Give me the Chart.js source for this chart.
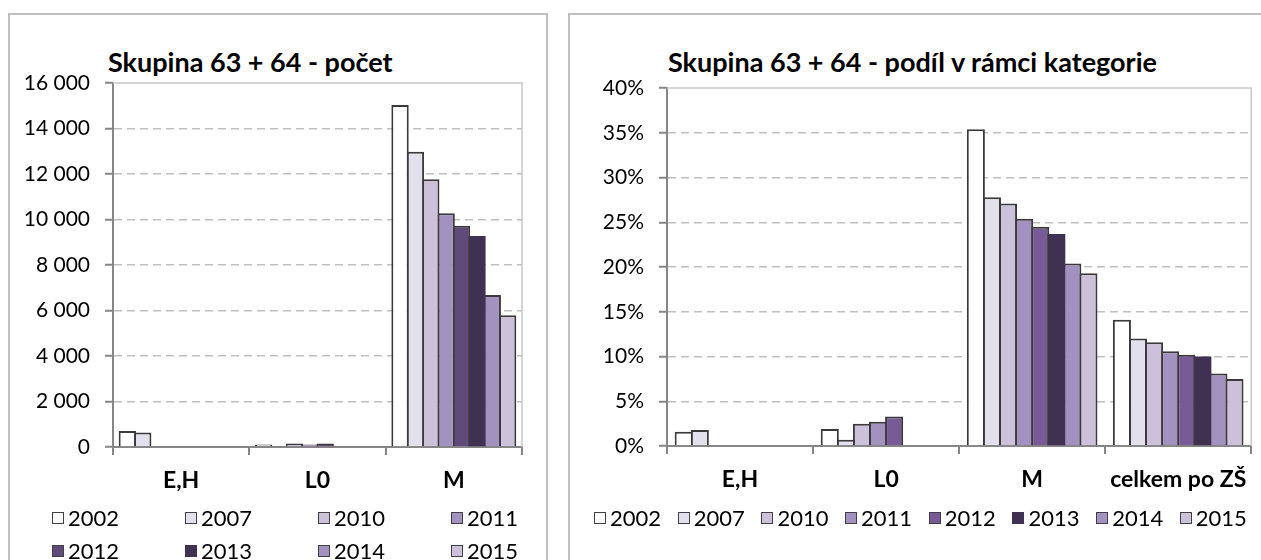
<!DOCTYPE html>
<html>
<head>
<meta charset="utf-8">
<script src="https://cdn.jsdelivr.net/npm/chart.js@4.4.1/dist/chart.umd.min.js"></script>
<style>
    body { margin: 0; width: 1261px; height: 560px; overflow: hidden; background: #fff; position: relative; font-family: Lato, sans-serif; }
    .panel { position: absolute; top: 13px; height: 620px; border: 2px solid #BFBFBF; box-sizing: border-box; }
    .title { position: absolute; top: 46px; font: bold 27px/32px Lato, sans-serif; color: #000; white-space: nowrap; }
    canvas { position: absolute; top: 13px; }
    .legend { position: absolute; top: 501px; display: grid; font: 22px/33px Lato, sans-serif; color: #000; }
    .legend-item { display: flex; align-items: center; white-space: nowrap; }
    .swatch { width: 12px; height: 12px; box-sizing: border-box; border: 1.5px solid #404040; margin-right: 4px; }
</style>
</head>
<body>
<div class="panel" style="left:8px; width:540px;"></div>
<div class="panel" style="left:568px; width:700px;"></div>
<div class="title" style="left:108px;">Skupina 63 + 64 - počet</div>
<div class="title" style="left:668px;">Skupina 63 + 64 - podíl v rámci kategorie</div>
<canvas id="countChart" width="540" height="500" style="left:7px;"></canvas>
<canvas id="shareChart" width="690" height="500" style="left:569px;"></canvas>
<div class="legend" id="countLegend" style="left:52px; grid-template-columns: repeat(4, 133px);"></div>
<div class="legend" id="shareLegend" style="left:594px; grid-template-columns: repeat(8, 83.7px);"></div>

<script>
// years = one series each
const years = ['2002', '2007', '2010', '2011', '2012', '2013', '2014', '2015'];

// left chart: counts per category (null = no bar)
const countCategories = ['E,H', 'L0', 'M'];
const countEH = [700, 640, null, null, null, null, null, null];
const countL0 = [105, 35, 150, 110, 150, null, null, null];
const countM = [15030, 12980, 11770, 10270, 9730, 9270, 6680, 5790];
const countTicks = [0, 2000, 4000, 6000, 8000, 10000, 12000, 14000, 16000];

// right chart: share within category, in %
const shareCategories = ['E,H', 'L0', 'M', 'celkem po ZŠ'];
const shareEH = [1.6, 1.8, null, null, null, null, null, null];
const shareL0 = [1.9, 0.7, 2.5, 2.7, 3.3, null, null, null];
const shareM = [35.4, 27.8, 27.1, 25.4, 24.5, 23.7, 20.4, 19.3];
const shareTotal = [14.1, 12.0, 11.6, 10.6, 10.2, 10.0, 8.1, 7.5];
const shareTicks = [0, 5, 10, 15, 20, 25, 30, 35, 40];

// bar colours per year
const countColors = ['#FFFFFF', '#E4DFEC', '#CCC0DA', '#A391BF', '#604A7B', '#403152', '#A391BF', '#CCC0DA'];
const shareColors = ['#FFFFFF', '#E4DFEC', '#CCC0DA', '#A391BF', '#775A96', '#403152', '#A391BF', '#CCC0DA'];

Chart.defaults.font.family = 'Lato, sans-serif';
Chart.defaults.color = '#000';

// light frame on top and right of plot area (excel style)
const plotFrame = {
    id: 'plotFrame',
    beforeDatasetsDraw(chart) {
        const { ctx, chartArea: a } = chart;
        ctx.save();
        ctx.strokeStyle = '#C8C8C8';
        ctx.lineWidth = 1.5;
        ctx.beginPath();
        ctx.moveTo(a.left, a.top);
        ctx.lineTo(a.right, a.top);
        ctx.lineTo(a.right, a.bottom);
        ctx.stroke();
        ctx.restore();
    }
};

function formatThousands(v) {
    return String(v).replace(/\B(?=(\d{3})+(?!\d))/g, ' ');
}

// barPct > 1 lets neighbouring bars share one border line, like excel
function buildDatasets(rows, colors, catPct, barPct) {
    return years.map((year, i) => ({
        label: year,
        data: rows.map(r => r[i]),
        backgroundColor: colors[i],
        borderColor: '#3A3A3A',
        borderWidth: i === 5 ? 0 : 2,
        categoryPercentage: catPct,
        barPercentage: barPct
    }));
}

function makeChart(canvasId, labels, datasets, tickValues, tickFormat, area) {
    const maxVal = tickValues[tickValues.length - 1];
    return new Chart(document.getElementById(canvasId), {
        type: 'bar',
        data: { labels: labels, datasets: datasets },
        options: {
            responsive: false,
            animation: false,
            layout: { padding: { top: area.top, right: area.right, left: 0, bottom: 0 } },
            plugins: {
                legend: { display: false },
                tooltip: { enabled: false }
            },
            scales: {
                x: {
                    grid: { drawOnChartArea: false, offset: true, color: '#868686', lineWidth: 2, tickLength: 8 },
                    border: { display: true, color: '#868686', width: 2 },
                    ticks: { font: { size: 23, weight: 'bold' }, padding: 12, color: '#000', maxRotation: 0, minRotation: 0, autoSkip: false },
                    afterFit: s => { s.height = area.xHeight; }
                },
                y: {
                    min: 0,
                    max: maxVal,
                    afterBuildTicks: s => { s.ticks = tickValues.map(v => ({ value: v })); },
                    grid: {
                        color: ctx => (ctx.tick && (ctx.tick.value === 0 || ctx.tick.value === maxVal)) ? 'rgba(0,0,0,0)' : '#BFBFBF',
                        lineWidth: 1.5,
                        tickColor: '#868686',
                        tickWidth: 2,
                        tickLength: 8
                    },
                    border: { display: true, color: '#868686', width: 2, dash: [8, 5] },
                    ticks: { font: { size: 21 }, padding: 15, color: '#000', callback: tickFormat },
                    afterFit: s => { s.width = area.yWidth; }
                }
            }
        },
        plugins: [plotFrame]
    });
}

function buildLegend(id, colors) {
    const box = document.getElementById(id);
    box.innerHTML = years.map((y, i) => `
        <div class="legend-item">
            <span class="swatch" style="background:${colors[i]};${i === 5 ? 'border-color:' + colors[i] + ';' : ''}"></span>${y}
        </div>
    `).join('');
}

// Page load
document.addEventListener('DOMContentLoaded', function() {
    makeChart('countChart', countCategories,
        buildDatasets([countEH, countL0, countM], countColors, 0.902, 1.13),
        countTicks, v => formatThousands(v),
        { top: 70, right: 25, yWidth: 106, xHeight: 66 });

    makeChart('shareChart', shareCategories,
        buildDatasets([shareEH, shareL0, shareM, shareTotal], shareColors, 0.881, 1.124),
        shareTicks, v => v + '%',
        { top: 75, right: 6, yWidth: 98, xHeight: 67 });

    buildLegend('countLegend', countColors);
    buildLegend('shareLegend', shareColors);
});
</script>
</body>
</html>
